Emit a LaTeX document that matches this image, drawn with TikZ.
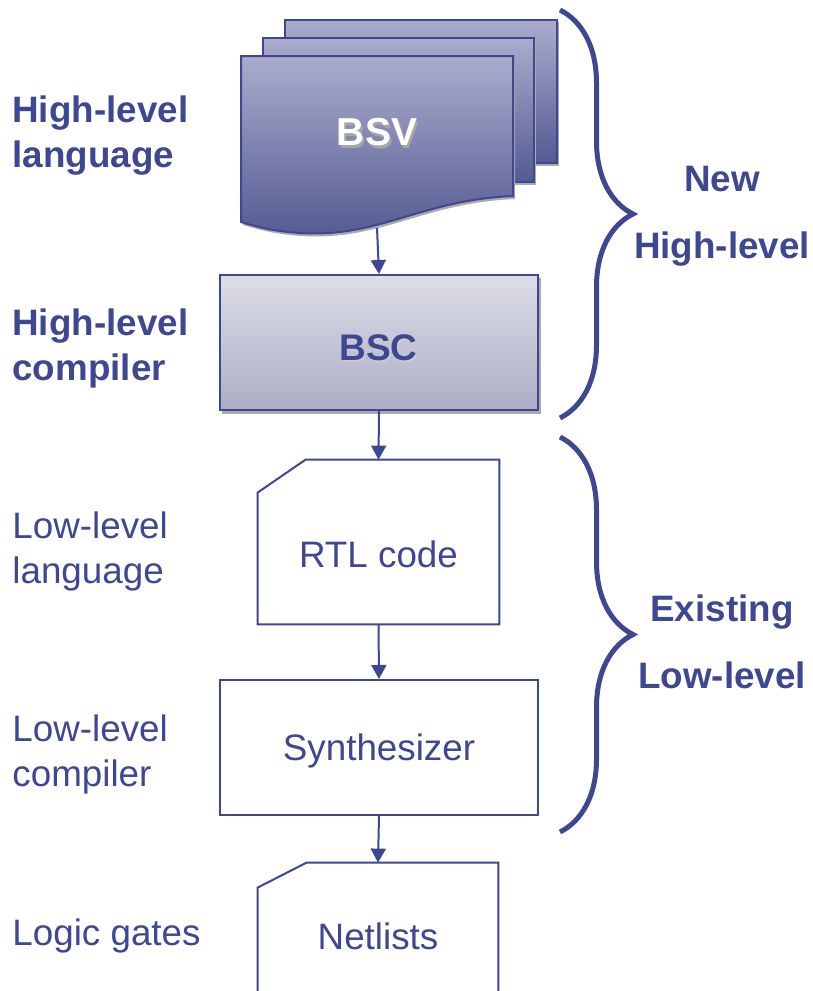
\documentclass[tikz,border=0pt]{standalone}
\usepackage{fontspec}
\setmainfont{Liberation Sans}
\usepackage{xcolor}
\usepackage{tikz}
\usetikzlibrary{arrows.meta,positioning,calc,decorations.pathreplacing}

\definecolor{ink}{RGB}{62,71,145}
\definecolor{sheettop}{RGB}{170,172,205}
\definecolor{sheetbot}{RGB}{84,90,146}
\definecolor{bsctop}{RGB}{220,221,230}
\definecolor{bscbot}{RGB}{172,174,199}
\definecolor{shadowgray}{RGB}{170,170,175}

\begin{document}
\begin{tikzpicture}[x=0.5pt, y=-0.5pt,
  lbl/.style={font=\fontsize{18.4}{22.5}\selectfont, text=ink, align=left, anchor=west, inner sep=0pt},
  side/.style={font=\fontsize{18.4}{33.5}\selectfont\bfseries, text=ink, align=center, inner sep=0pt},
  box/.style={draw=ink, line width=1pt, fill=white, inner sep=0pt},
  sheet/.style={draw=ink, line width=1pt, top color=sheettop, bottom color=sheetbot},
  arr/.style={draw=ink, line width=1pt, -{Triangle[length=7pt,width=7.5pt]}},
  brc/.style={draw=ink, line width=2.5pt, decorate, decoration={brace, amplitude=36.5pt}},
]
  \clip (0,0) rectangle (813,991);

  % BSV stack
  \fill[shadowgray] (287,22) rectangle (559,166);
  \path[sheet] (285,20) rectangle (557,163);
  \fill[shadowgray] (265,40) rectangle (536,185);
  \path[sheet] (263,38) rectangle (534,182);
  \fill[shadowgray, shift={(2,3)}] (241,56) -- (513,56) -- (513,196)
    .. controls (420,200) and (380,238) .. (300,233)
    .. controls (270,231) and (255,226) .. (241,222) -- cycle;
  \path[sheet] (241,56) -- (513,56) -- (513,196)
    .. controls (420,200) and (380,238) .. (300,233)
    .. controls (270,231) and (255,226) .. (241,222) -- cycle;
  \node[font=\fontsize{19.5}{20}\selectfont\bfseries, text=gray!70] at (379,135) {BSV};
  \node[font=\fontsize{19.5}{20}\selectfont\bfseries, text=white] (bsv) at (377,132) {BSV};
  \coordinate (bsvbot) at (377,228);

  % BSC
  \fill[shadowgray] (222,278) rectangle (541,414);
  \node[draw=ink, line width=1pt, top color=bsctop, bottom color=bscbot,
    minimum width=159pt, minimum height=67.5pt] (bsc) at (379,342.5) {};
  \node[font=\fontsize{18.5}{20}\selectfont\bfseries, text=shadowgray!60] at (380,350) {BSC};
  \node[font=\fontsize{18.5}{20}\selectfont\bfseries, text=ink] (bsctxt) at (378.5,347.5) {BSC};

  % RTL code
  \node[minimum width=120.5pt, minimum height=82pt, inner sep=0pt] (rtl) at (378.5,542) {};
  \draw[box] ($(rtl.north west)+(0,33)$) -- ($(rtl.north west)+(48,0)$)
    -- (rtl.north east) -- (rtl.south east) -- (rtl.south west) -- cycle;
  \node[lbl, anchor=center] (rtltxt) at (378.5,554) {RTL code};

  % Synthesizer
  \node[box, minimum width=159pt, minimum height=67.5pt, lbl, anchor=center]
    (synth) at (379,747.5) {};
  \node[lbl, anchor=center] (synthtxt) at (379,751) {Synthesizer};

  % Netlists
  \node[minimum width=120pt, minimum height=80pt, inner sep=0pt] (netlists) at (378,943) {};
  \draw[box] ($(netlists.north west)+(0,25)$) -- ($(netlists.north west)+(49,0)$)
    -- (netlists.north east) -- (netlists.south east) -- (netlists.south west) -- cycle;
  \node[lbl, anchor=center] (nettxt) at (378,936) {Netlists};

  \draw[arr] (bsvbot) -- (bsc.north);
  \draw[arr] (bsc.south) -- (rtl.north);
  \draw[arr] (rtl.south) -- (synth.north);
  \draw[arr] (synth.south) -- (netlists.north);

  % left labels
  \node[lbl, font=\fontsize{18.4}{22.5}\selectfont\bfseries] (hll) at (12,136) {High-level\\language};
  \node[lbl, font=\fontsize{18.4}{22.5}\selectfont\bfseries] (hlc) at (12,348) {High-level\\compiler};
  \node[lbl] (lll) at (12,551) {Low-level\\language};
  \node[lbl] (llc) at (12,754) {Low-level\\compiler};
  \node[lbl] (lg) at (12,936) {Logic gates};

  % braces
  \coordinate (b1t) at (560,10);
  \coordinate (b1b) at (560,418);
  \coordinate (b2t) at (560,437);
  \coordinate (b2b) at (560,832);
  \draw[brc] (b1t) -- (b1b);
  \draw[brc] (b2t) -- (b2b);
  \node[side] (newhl) at (722,216) {New\\High-level};
  \node[side] (exll) at (722,642) {Existing\\Low-level};
\end{tikzpicture}
\end{document}
